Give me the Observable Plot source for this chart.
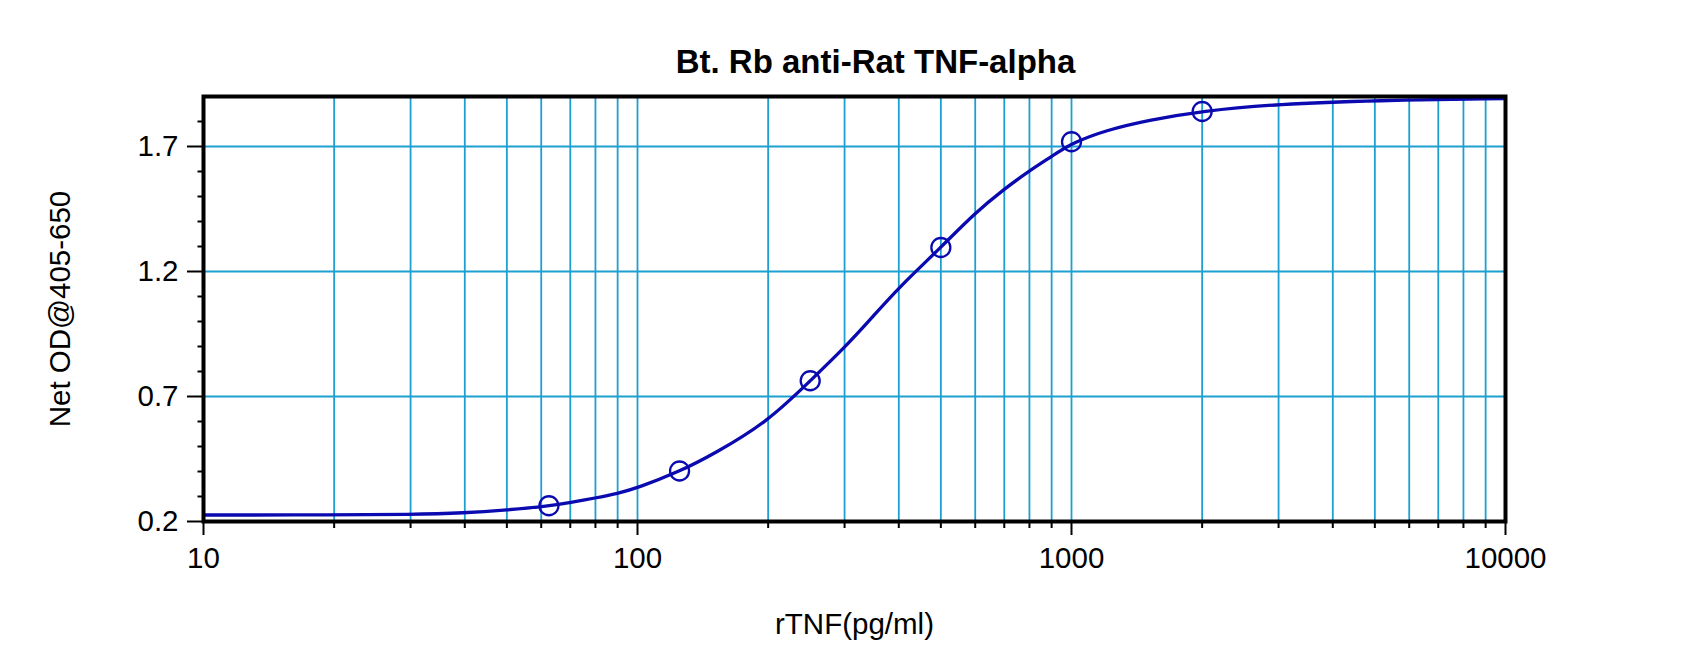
<!DOCTYPE html>
<html>
<head>
<meta charset="utf-8">
<script src="https://cdn.jsdelivr.net/npm/d3@7"></script>
<script src="https://cdn.jsdelivr.net/npm/@observablehq/plot@0.6"></script>
<style>
  html, body { margin: 0; padding: 0; background: #fff; }
</style>
</head>
<body>
<div id="chart"></div>
<script>
// ---- data ----
const titleText = "Bt. Rb anti-Rat TNF-alpha";
const xLabel = "rTNF(pg/ml)";
const yLabel = "Net OD@405-650";

// standard points (concentration, OD)
const stdConc = [62.5, 125, 250, 500, 1000, 2000];
const stdOD   = [0.263, 0.402, 0.763, 1.296, 1.719, 1.84];

// fitted curve
const fitConc = [10, 20, 30, 40, 50, 62.5, 70, 80, 90, 100, 125, 150, 200, 250, 300, 350, 400, 500, 600, 700, 800, 900, 1000, 1200, 1500, 2000, 3000, 5000, 10000];
const fitOD   = [0.226, 0.226, 0.228, 0.234, 0.246, 0.262, 0.276, 0.294, 0.312, 0.334, 0.40, 0.47, 0.60, 0.763, 0.895, 1.023, 1.136, 1.296, 1.435, 1.53, 1.603, 1.66, 1.713, 1.765, 1.805, 1.842, 1.87, 1.884, 1.892];

// ticks
const xMajorTicks = [10, 100, 1000, 10000];
const xMinorTicks = [20, 30, 40, 50, 60, 70, 80, 90, 200, 300, 400, 500, 600, 700, 800, 900, 2000, 3000, 4000, 5000, 6000, 7000, 8000, 9000];
const xGridLines  = [20, 30, 40, 50, 60, 70, 80, 90, 100, 200, 300, 400, 500, 600, 700, 800, 900, 1000, 2000, 3000, 4000, 5000, 6000, 7000, 8000, 9000];
const yMajorTicks = [0.2, 0.7, 1.2, 1.7];
const yMinorTicks = [0.3, 0.4, 0.5, 0.6, 0.8, 0.9, 1.0, 1.1, 1.3, 1.4, 1.5, 1.6, 1.8];
const yGridLines  = [0.7, 1.2, 1.7];

// ---- build ----
const points = stdConc.map((c, i) => ({conc: c, od: stdOD[i]}));
const fit = fitConc.map((c, i) => ({conc: c, od: fitOD[i]}));

const gridColor = "#1e9fd2";
const blue = "#0a0ab0";
const font = "'Liberation Sans', Arial, Helvetica, sans-serif";

const chart = Plot.plot({
  width: 1700,
  height: 661,
  marginTop: 96,
  marginRight: 195,
  marginBottom: 140,
  marginLeft: 203,
  style: {fontFamily: font, background: "#fff", color: "#000"},
  x: {type: "log", domain: [10, 10000]},
  y: {domain: [0.2, 1.9]},
  marks: [
    Plot.ruleX(xGridLines, {stroke: gridColor, strokeWidth: 1.8}),
    Plot.ruleY(yGridLines, {stroke: gridColor, strokeWidth: 2}),
    Plot.line(fit, {x: "conc", y: "od", curve: "basis", stroke: blue, strokeWidth: 3.3}),
    Plot.dot(points, {x: "conc", y: "od", r: 9.5, stroke: blue, strokeWidth: 2.3, fill: "none"}),
    Plot.axisY({ticks: yMinorTicks, tickSize: 5.5, tickFormat: () => "", label: null, strokeWidth: 2}),
    Plot.axisY({ticks: yMajorTicks, tickSize: 16, tickPadding: 9, tickFormat: d3.format(".1f"), label: null, fontSize: 29.5, strokeWidth: 2}),
    Plot.axisX({ticks: xMinorTicks, tickSize: 7, tickFormat: () => "", label: null, strokeWidth: 2}),
    Plot.axisX({ticks: xMajorTicks, tickSize: 14, tickPadding: 12, tickFormat: d => String(d), label: null, fontSize: 29.5, strokeWidth: 2}),
    Plot.frame({stroke: "#000", strokeWidth: 4}),
    Plot.text([titleText], {frameAnchor: "top", textAnchor: "middle", lineAnchor: "bottom", dx: 21, dy: -24, fontSize: 33, fontWeight: "bold", fill: "#000"}),
    Plot.text([xLabel], {frameAnchor: "bottom", textAnchor: "middle", lineAnchor: "bottom", dy: 112, fontSize: 29.5, fill: "#000"}),
    Plot.text([yLabel], {frameAnchor: "left", textAnchor: "middle", rotate: -90, dx: -143, fontSize: 29.5, fill: "#000"})
  ]
});
document.getElementById("chart").appendChild(chart);
</script>
</body>
</html>
